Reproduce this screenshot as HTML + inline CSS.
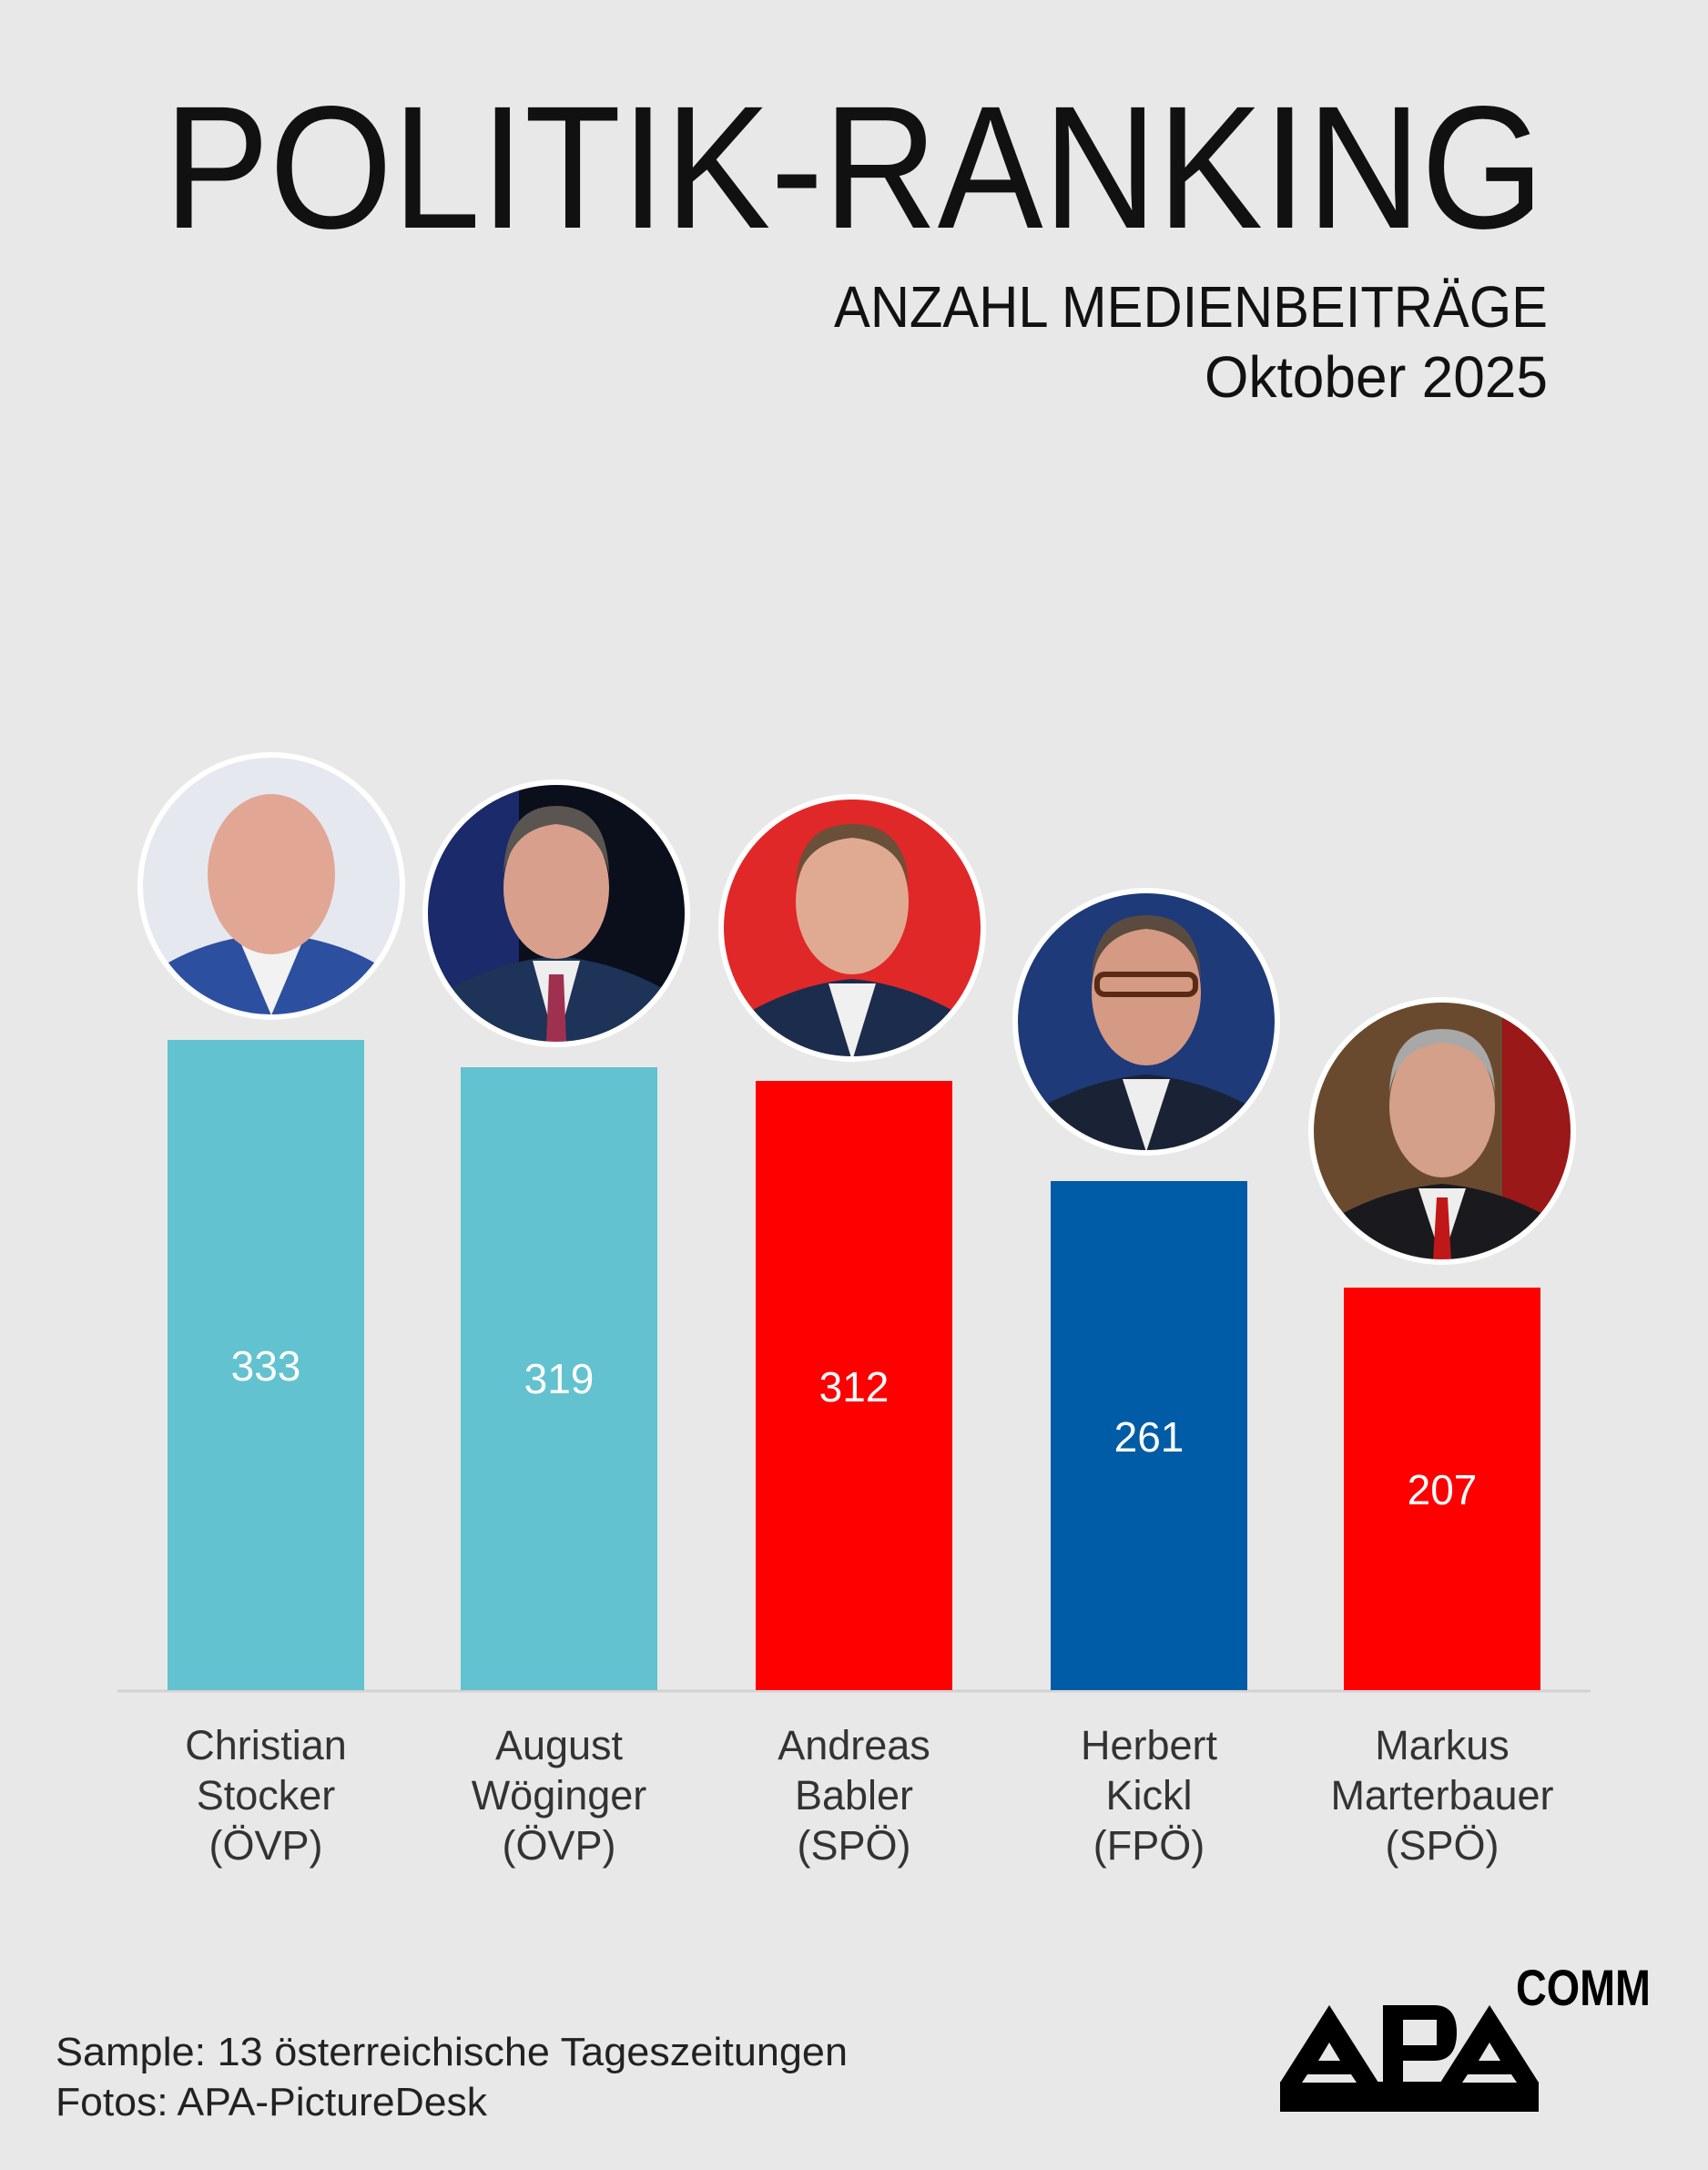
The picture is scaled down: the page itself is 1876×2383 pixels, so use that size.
<!DOCTYPE html>
<html><head><meta charset="utf-8"><style>
html,body{margin:0;padding:0;background:#e8e8e8}
svg{display:block}
text{font-family:"Liberation Sans",sans-serif}
</style></head><body>
<svg width="1876" height="2383" viewBox="0 0 1876 2383" xmlns="http://www.w3.org/2000/svg">
<rect width="1876" height="2383" fill="#e8e8e8"/>
<text x="180" y="250" font-size="192" fill="#111" textLength="1516" lengthAdjust="spacingAndGlyphs" style="font-weight:300">POLITIK-RANKING</text>
<text x="1700" y="359" font-size="64" fill="#111" text-anchor="end" textLength="784" lengthAdjust="spacingAndGlyphs">ANZAHL MEDIENBEITRÄGE</text>
<text x="1700" y="436" font-size="64" fill="#111" text-anchor="end" textLength="377" lengthAdjust="spacingAndGlyphs">Oktober 2025</text>

<line x1="129" y1="1857" x2="1747" y2="1857" stroke="#d2d2d2" stroke-width="3"/>
<rect x="184" y="1142" width="216" height="714" fill="#62c2cf"/>
<rect x="506" y="1172" width="216" height="684" fill="#62c2cf"/>
<rect x="830" y="1187" width="216" height="669" fill="#ff0000"/>
<rect x="1154" y="1297" width="216" height="559" fill="#005ca6"/>
<rect x="1476" y="1414" width="216" height="442" fill="#ff0000"/>
<g font-size="46" fill="#fff" text-anchor="middle">
<text x="292" y="1516">333</text>
<text x="614" y="1530">319</text>
<text x="938" y="1539">312</text>
<text x="1262" y="1594">261</text>
<text x="1584" y="1652">207</text>
</g>
<g font-size="45" fill="#333" text-anchor="middle">
<text x="292" y="1932">Christian</text><text x="292" y="1987">Stocker</text><text x="292" y="2042">(ÖVP)</text>
<text x="614" y="1932">August</text><text x="614" y="1987">Wöginger</text><text x="614" y="2042">(ÖVP)</text>
<text x="938" y="1932">Andreas</text><text x="938" y="1987">Babler</text><text x="938" y="2042">(SPÖ)</text>
<text x="1262" y="1932">Herbert</text><text x="1262" y="1987">Kickl</text><text x="1262" y="2042">(FPÖ)</text>
<text x="1584" y="1932">Markus</text><text x="1584" y="1987">Marterbauer</text><text x="1584" y="2042">(SPÖ)</text>
</g>

<defs>
<clipPath id="c1"><circle cx="298" cy="973" r="142"/></clipPath>
<clipPath id="c2"><circle cx="611" cy="1003" r="142"/></clipPath>
<clipPath id="c3"><circle cx="936" cy="1019" r="142"/></clipPath>
<clipPath id="c4"><circle cx="1259" cy="1122" r="142"/></clipPath>
<clipPath id="c5"><circle cx="1584" cy="1242" r="142"/></clipPath>
</defs>
<g clip-path="url(#c1)">
<rect x="150" y="820" width="300" height="300" fill="#e6e8f0"/>
<path d="M160 1120 L180 1060 Q230 1030 298 1025 Q366 1030 416 1060 L436 1120 Z" fill="#2c4fa0"/>
<path d="M262 1030 L298 1115 L334 1030 Z" fill="#f2f2f2"/>
<ellipse cx="298" cy="960" rx="70" ry="88" fill="#e2a695"/>
</g>
<circle cx="298" cy="973" r="144" fill="none" stroke="#fff" stroke-width="6"/>
<g clip-path="url(#c2)">
<rect x="460" y="850" width="310" height="310" fill="#0b0f1c"/>
<rect x="460" y="850" width="110" height="310" fill="#1a2a6a"/>
<path d="M470 1150 L495 1085 Q550 1055 611 1050 Q672 1055 727 1085 L752 1150 Z" fill="#1d3358"/>
<path d="M585 1055 L611 1150 L637 1055 Z" fill="#eee"/>
<path d="M603 1070 L619 1070 L622 1145 L600 1145 Z" fill="#a03050"/>
<ellipse cx="611" cy="975" rx="58" ry="78" fill="#d8a08c"/>
<path d="M553 960 Q555 885 611 885 Q667 885 669 960 Q660 910 611 905 Q562 910 553 960Z" fill="#5a5550"/>
</g>
<circle cx="611" cy="1003" r="144" fill="none" stroke="#fff" stroke-width="6"/>
<g clip-path="url(#c3)">
<rect x="790" y="870" width="300" height="300" fill="#e02828"/>
<path d="M800 1170 L825 1110 Q880 1080 936 1075 Q992 1080 1047 1110 L1072 1170 Z" fill="#1c2c4c"/>
<path d="M910 1080 L936 1165 L962 1080 Z" fill="#f0f0f0"/>
<ellipse cx="936" cy="990" rx="62" ry="80" fill="#e0aa92"/>
<path d="M874 975 Q876 905 936 905 Q996 905 998 975 Q990 925 936 920 Q882 925 874 975Z" fill="#6a5038"/>
</g>
<circle cx="936" cy="1019" r="144" fill="none" stroke="#fff" stroke-width="6"/>
<g clip-path="url(#c4)">
<rect x="1110" y="975" width="300" height="300" fill="#1e3a78"/>
<path d="M1120 1270 L1145 1215 Q1200 1185 1259 1180 Q1318 1185 1373 1215 L1398 1270 Z" fill="#1a2236"/>
<path d="M1233 1185 L1259 1265 L1285 1185 Z" fill="#eee"/>
<ellipse cx="1259" cy="1090" rx="60" ry="80" fill="#d49a84"/>
<path d="M1199 1075 Q1201 1005 1259 1005 Q1317 1005 1319 1075 Q1310 1025 1259 1020 Q1208 1025 1199 1075Z" fill="#5a4a40"/>
<rect x="1205" y="1070" width="108" height="22" rx="8" fill="none" stroke="#5a2a14" stroke-width="6"/>
</g>
<circle cx="1259" cy="1122" r="144" fill="none" stroke="#fff" stroke-width="6"/>
<g clip-path="url(#c5)">
<rect x="1435" y="1095" width="300" height="300" fill="#6a4a2e"/>
<rect x="1650" y="1095" width="90" height="300" fill="#9a1818"/>
<path d="M1445 1390 L1470 1335 Q1525 1305 1584 1300 Q1643 1305 1698 1335 L1723 1390 Z" fill="#1a1a1e"/>
<path d="M1558 1305 L1584 1385 L1610 1305 Z" fill="#eee"/>
<path d="M1578 1315 L1590 1315 L1594 1385 L1574 1385 Z" fill="#c01818"/>
<ellipse cx="1584" cy="1215" rx="58" ry="78" fill="#d4a08a"/>
<path d="M1526 1200 Q1528 1130 1584 1130 Q1640 1130 1642 1200 Q1634 1150 1584 1145 Q1534 1150 1526 1200Z" fill="#a8a8a8"/>
</g>
<circle cx="1584" cy="1242" r="144" fill="none" stroke="#fff" stroke-width="6"/>

<text x="61" y="2268" font-size="44" fill="#222" textLength="870" lengthAdjust="spacingAndGlyphs">Sample: 13 österreichische Tageszeitungen</text>
<text x="61" y="2323" font-size="44" fill="#222" textLength="474" lengthAdjust="spacingAndGlyphs">Fotos: APA-PictureDesk</text>

<g fill="#000">
<polygon points="1406,2287 1460,2202 1514,2287"/>
<path d="M1519 2202 H1575 Q1600 2202 1600 2232 Q1600 2263 1575 2263 H1541 V2287 H1519 Z"/>
<polygon points="1582,2287 1636,2202 1690,2287"/>
<rect x="1406" y="2286" width="284" height="33"/>
</g>
<g fill="#e8e8e8">
<polygon points="1460,2243 1448,2263 1472,2263"/>
<polygon points="1436,2278 1484,2278 1490,2287 1430,2287"/>
<polygon points="1636,2243 1624,2263 1648,2263"/>
<polygon points="1612,2278 1660,2278 1666,2287 1606,2287"/>
<rect x="1541" y="2218" width="37" height="28"/>
</g>
<text x="1665" y="2202" font-size="56" font-weight="bold" fill="#000" textLength="148" lengthAdjust="spacingAndGlyphs">COMM</text>
</svg>
</body></html>
